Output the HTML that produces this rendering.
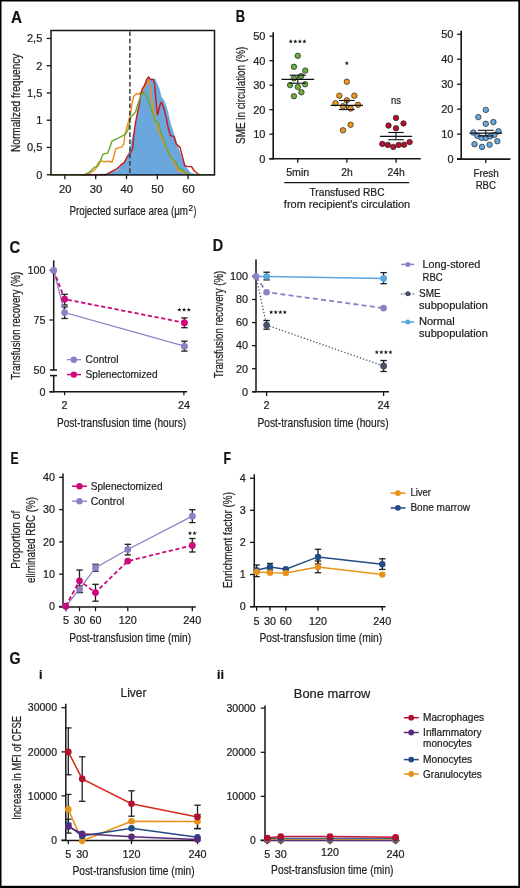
<!DOCTYPE html>
<html><head><meta charset="utf-8"><style>
html,body{margin:0;padding:0;background:#fff;width:520px;height:888px;overflow:hidden}
svg{display:block;will-change:transform}
text{font-family:"Liberation Sans", sans-serif;stroke:#222;stroke-width:0.22px}
</style></head><body>
<svg width="520" height="888" viewBox="0 0 520 888">
<rect x="0" y="0" width="520" height="888" fill="#fff"/>
<text x="11.00" y="22.50" font-size="16.5" text-anchor="start" fill="#111" font-weight="bold" textLength="11.00" lengthAdjust="spacingAndGlyphs">A</text>
<polygon points="94.0,174.8 107.0,173.8 116.7,171.0 123.5,163.3 127.3,156.5 130.2,148.8 133.1,134.4 135.0,129.6 138.5,110.0 141.8,90.8 145.0,84.0 148.8,77.7 151.0,78.8 154.9,79.0 158.8,87.7 161.1,96.5 164.4,101.5 167.8,112.0 170.4,123.8 174.2,135.4 178.1,147.9 181.9,158.5 185.8,167.1 190.6,172.9 195.4,174.5 200.0,174.8" fill="#6aa7dd" stroke="#5eaeea" stroke-width="0.8"/>
<polyline points="76.00,174.80 85.00,174.80 90.80,172.90 95.60,169.00 98.50,162.30 100.90,160.90 104.20,161.80 108.10,161.30 111.90,162.30 113.80,156.50 115.80,148.80 118.20,147.90 122.00,146.90 123.90,143.60 124.90,134.40 127.30,125.80 130.30,114.60 132.20,102.30 133.80,96.20 136.50,93.50 139.50,94.20 141.50,91.50 144.20,87.70 146.80,83.10 148.80,80.00 149.90,85.40 151.10,96.20 152.60,106.20 154.50,116.20 156.50,124.00 159.80,133.50 164.60,145.00 169.40,154.60 174.20,162.30 178.10,171.00 181.40,171.00 183.80,172.90 186.70,174.50 189.00,174.80" fill="none" stroke="#ee8f1f" stroke-width="1.45" stroke-linecap="butt" stroke-linejoin="round"/>
<polyline points="81.00,174.80 106.20,174.80 109.00,172.90 112.90,171.00 116.70,169.00 120.60,165.20 124.40,162.30 127.30,156.50 130.20,153.70 132.60,148.80 134.00,134.40 135.00,126.00 136.50,117.70 138.80,106.90 140.70,95.40 142.20,89.20 144.50,85.40 146.80,79.20 148.60,76.90 150.30,79.60 153.40,79.60 154.50,83.80 155.30,93.10 156.50,106.20 157.50,114.80 158.80,110.00 160.30,103.80 161.40,102.20 163.50,107.00 166.10,117.10 168.00,126.70 170.40,135.40 174.20,136.80 176.20,144.00 180.00,147.40 182.40,156.50 184.80,165.70 188.20,166.60 191.50,166.60 194.40,171.00 198.30,174.30 200.00,174.80" fill="none" stroke="#c81d1d" stroke-width="1.45" stroke-linecap="butt" stroke-linejoin="round"/>
<polyline points="51.00,174.80 84.00,174.80 88.80,172.70 91.70,170.00 94.60,167.10 97.50,166.60 99.90,162.30 102.80,154.60 104.20,153.70 107.60,153.20 110.00,146.90 111.90,141.20 114.80,139.70 117.70,138.30 121.50,136.30 125.40,134.40 127.80,130.60 129.20,124.80 131.10,116.20 133.40,114.60 135.70,111.50 138.00,103.80 140.70,96.20 143.40,91.90 145.70,94.60 148.80,102.30 152.60,112.30 155.00,121.00 158.40,122.90 160.80,132.50 164.60,143.10 170.40,157.50 175.20,161.30 179.00,168.10 182.90,170.00 185.80,172.90 188.70,174.50 192.00,174.80 214.00,174.80" fill="none" stroke="#67ab35" stroke-width="1.45" stroke-linecap="butt" stroke-linejoin="round"/>
<line x1="129.90" y1="31.50" x2="129.90" y2="174.60" stroke="#3a3a3a" stroke-width="1.5" stroke-linecap="butt" stroke-dasharray="4.6,2.6"/>
<rect x="51" y="30.5" width="163.5" height="144.4" fill="none" stroke="#161616" stroke-width="1.5"/>
<line x1="46.70" y1="174.70" x2="51.00" y2="174.70" stroke="#161616" stroke-width="1.3" stroke-linecap="butt"/>
<text x="42.30" y="178.60" font-size="11" text-anchor="end" fill="#222222">0</text>
<line x1="46.70" y1="147.45" x2="51.00" y2="147.45" stroke="#161616" stroke-width="1.3" stroke-linecap="butt"/>
<text x="42.30" y="151.35" font-size="11" text-anchor="end" fill="#222222">0,5</text>
<line x1="46.70" y1="120.20" x2="51.00" y2="120.20" stroke="#161616" stroke-width="1.3" stroke-linecap="butt"/>
<text x="42.30" y="124.10" font-size="11" text-anchor="end" fill="#222222">1</text>
<line x1="46.70" y1="92.95" x2="51.00" y2="92.95" stroke="#161616" stroke-width="1.3" stroke-linecap="butt"/>
<text x="42.30" y="96.85" font-size="11" text-anchor="end" fill="#222222">1,5</text>
<line x1="46.70" y1="65.70" x2="51.00" y2="65.70" stroke="#161616" stroke-width="1.3" stroke-linecap="butt"/>
<text x="42.30" y="69.60" font-size="11" text-anchor="end" fill="#222222">2</text>
<line x1="46.70" y1="38.45" x2="51.00" y2="38.45" stroke="#161616" stroke-width="1.3" stroke-linecap="butt"/>
<text x="42.30" y="42.35" font-size="11" text-anchor="end" fill="#222222">2,5</text>
<line x1="64.90" y1="174.80" x2="64.90" y2="179.20" stroke="#161616" stroke-width="1.3" stroke-linecap="butt"/>
<text x="65.20" y="192.60" font-size="11.2" text-anchor="middle" fill="#222222">20</text>
<line x1="95.70" y1="174.80" x2="95.70" y2="179.20" stroke="#161616" stroke-width="1.3" stroke-linecap="butt"/>
<text x="96.00" y="192.60" font-size="11.2" text-anchor="middle" fill="#222222">30</text>
<line x1="126.50" y1="174.80" x2="126.50" y2="179.20" stroke="#161616" stroke-width="1.3" stroke-linecap="butt"/>
<text x="126.80" y="192.60" font-size="11.2" text-anchor="middle" fill="#222222">40</text>
<line x1="157.30" y1="174.80" x2="157.30" y2="179.20" stroke="#161616" stroke-width="1.3" stroke-linecap="butt"/>
<text x="157.60" y="192.60" font-size="11.2" text-anchor="middle" fill="#222222">50</text>
<line x1="188.10" y1="174.80" x2="188.10" y2="179.20" stroke="#161616" stroke-width="1.3" stroke-linecap="butt"/>
<text x="188.40" y="192.60" font-size="11.2" text-anchor="middle" fill="#222222">60</text>
<text transform="translate(20.00,102.80) rotate(-90)" x="0" y="0" font-size="13.7" text-anchor="middle" fill="#222222" textLength="98.40" lengthAdjust="spacingAndGlyphs">Normalized frequency</text>
<text x="69.40" y="214.60" font-size="13.7" text-anchor="start" fill="#222222" textLength="118.60" lengthAdjust="spacingAndGlyphs">Projected surface area (μm</text>
<text x="188.60" y="210.80" font-size="9.8" text-anchor="start" fill="#222222" textLength="4.60" lengthAdjust="spacingAndGlyphs">2</text>
<text x="193.60" y="214.60" font-size="13.7" text-anchor="start" fill="#222222" textLength="2.90" lengthAdjust="spacingAndGlyphs">)</text>
<text x="235.80" y="22.30" font-size="16.5" text-anchor="start" fill="#111" font-weight="bold" textLength="9.30" lengthAdjust="spacingAndGlyphs">B</text>
<line x1="273.20" y1="32.30" x2="273.20" y2="159.40" stroke="#161616" stroke-width="1.6" stroke-linecap="butt"/>
<line x1="269.20" y1="158.70" x2="420.80" y2="158.70" stroke="#161616" stroke-width="1.6" stroke-linecap="butt"/>
<line x1="269.50" y1="158.70" x2="273.40" y2="158.70" stroke="#161616" stroke-width="1.3" stroke-linecap="butt"/>
<text x="265.40" y="162.60" font-size="11" text-anchor="end" fill="#222222">0</text>
<line x1="269.50" y1="134.20" x2="273.40" y2="134.20" stroke="#161616" stroke-width="1.3" stroke-linecap="butt"/>
<text x="265.40" y="138.10" font-size="11" text-anchor="end" fill="#222222">10</text>
<line x1="269.50" y1="109.70" x2="273.40" y2="109.70" stroke="#161616" stroke-width="1.3" stroke-linecap="butt"/>
<text x="265.40" y="113.60" font-size="11" text-anchor="end" fill="#222222">20</text>
<line x1="269.50" y1="85.20" x2="273.40" y2="85.20" stroke="#161616" stroke-width="1.3" stroke-linecap="butt"/>
<text x="265.40" y="89.10" font-size="11" text-anchor="end" fill="#222222">30</text>
<line x1="269.50" y1="60.70" x2="273.40" y2="60.70" stroke="#161616" stroke-width="1.3" stroke-linecap="butt"/>
<text x="265.40" y="64.60" font-size="11" text-anchor="end" fill="#222222">40</text>
<line x1="269.50" y1="36.20" x2="273.40" y2="36.20" stroke="#161616" stroke-width="1.3" stroke-linecap="butt"/>
<text x="265.40" y="40.10" font-size="11" text-anchor="end" fill="#222222">50</text>
<line x1="297.70" y1="158.70" x2="297.70" y2="162.80" stroke="#161616" stroke-width="1.3" stroke-linecap="butt"/>
<text x="297.70" y="176.20" font-size="11" text-anchor="middle" fill="#222222" textLength="23.00" lengthAdjust="spacingAndGlyphs">5min</text>
<line x1="346.90" y1="158.70" x2="346.90" y2="162.80" stroke="#161616" stroke-width="1.3" stroke-linecap="butt"/>
<text x="346.90" y="176.20" font-size="11" text-anchor="middle" fill="#222222" textLength="11.50" lengthAdjust="spacingAndGlyphs">2h</text>
<line x1="396.10" y1="158.70" x2="396.10" y2="162.80" stroke="#161616" stroke-width="1.3" stroke-linecap="butt"/>
<text x="396.10" y="176.20" font-size="11" text-anchor="middle" fill="#222222" textLength="17.30" lengthAdjust="spacingAndGlyphs">24h</text>
<line x1="284.20" y1="182.60" x2="409.20" y2="182.60" stroke="#161616" stroke-width="1.3" stroke-linecap="butt"/>
<text x="347.00" y="196.00" font-size="11.4" text-anchor="middle" fill="#222222" textLength="75.00" lengthAdjust="spacingAndGlyphs">Transfused RBC</text>
<text x="347.00" y="207.60" font-size="11.4" text-anchor="middle" fill="#222222" textLength="126.30" lengthAdjust="spacingAndGlyphs">from recipient's circulation</text>
<text transform="translate(245.30,95.35) rotate(-90)" x="0" y="0" font-size="13.7" text-anchor="middle" fill="#222222" textLength="97.10" lengthAdjust="spacingAndGlyphs">SME in circulation (%)</text>
<circle cx="297.80" cy="55.80" r="2.75" fill="#6cae3e" stroke="#222" stroke-width="0.7"/>
<circle cx="293.90" cy="66.80" r="2.75" fill="#6cae3e" stroke="#222" stroke-width="0.7"/>
<circle cx="305.30" cy="70.60" r="2.75" fill="#6cae3e" stroke="#222" stroke-width="0.7"/>
<circle cx="301.20" cy="76.00" r="2.75" fill="#6cae3e" stroke="#222" stroke-width="0.7"/>
<circle cx="293.90" cy="78.30" r="2.75" fill="#6cae3e" stroke="#222" stroke-width="0.7"/>
<circle cx="290.10" cy="85.10" r="2.75" fill="#6cae3e" stroke="#222" stroke-width="0.7"/>
<circle cx="297.80" cy="87.00" r="2.75" fill="#6cae3e" stroke="#222" stroke-width="0.7"/>
<circle cx="305.10" cy="84.30" r="2.75" fill="#6cae3e" stroke="#222" stroke-width="0.7"/>
<circle cx="301.40" cy="92.30" r="2.75" fill="#6cae3e" stroke="#222" stroke-width="0.7"/>
<circle cx="293.90" cy="96.20" r="2.75" fill="#6cae3e" stroke="#222" stroke-width="0.7"/>
<line x1="281.45" y1="79.30" x2="314.15" y2="79.30" stroke="#111" stroke-width="1.3" stroke-linecap="butt"/>
<line x1="289.60" y1="75.20" x2="306.00" y2="75.20" stroke="#111" stroke-width="1.1" stroke-linecap="butt"/>
<line x1="289.60" y1="83.20" x2="306.00" y2="83.20" stroke="#111" stroke-width="1.1" stroke-linecap="butt"/>
<line x1="297.80" y1="75.20" x2="297.80" y2="83.20" stroke="#111" stroke-width="1.1" stroke-linecap="butt"/>
<circle cx="346.80" cy="81.70" r="2.75" fill="#f0961c" stroke="#222" stroke-width="0.7"/>
<circle cx="339.30" cy="95.70" r="2.75" fill="#f0961c" stroke="#222" stroke-width="0.7"/>
<circle cx="354.40" cy="95.70" r="2.75" fill="#f0961c" stroke="#222" stroke-width="0.7"/>
<circle cx="346.80" cy="100.30" r="2.75" fill="#f0961c" stroke="#222" stroke-width="0.7"/>
<circle cx="335.50" cy="103.20" r="2.75" fill="#f0961c" stroke="#222" stroke-width="0.7"/>
<circle cx="343.00" cy="106.25" r="2.75" fill="#f0961c" stroke="#222" stroke-width="0.7"/>
<circle cx="358.00" cy="104.80" r="2.75" fill="#f0961c" stroke="#222" stroke-width="0.7"/>
<circle cx="350.60" cy="108.50" r="2.75" fill="#f0961c" stroke="#222" stroke-width="0.7"/>
<circle cx="350.60" cy="124.80" r="2.75" fill="#f0961c" stroke="#222" stroke-width="0.7"/>
<circle cx="343.00" cy="130.30" r="2.75" fill="#f0961c" stroke="#222" stroke-width="0.7"/>
<line x1="330.60" y1="105.30" x2="363.00" y2="105.30" stroke="#111" stroke-width="1.3" stroke-linecap="butt"/>
<line x1="338.95" y1="100.50" x2="354.65" y2="100.50" stroke="#111" stroke-width="1.1" stroke-linecap="butt"/>
<line x1="338.95" y1="109.60" x2="354.65" y2="109.60" stroke="#111" stroke-width="1.1" stroke-linecap="butt"/>
<line x1="346.80" y1="100.50" x2="346.80" y2="109.60" stroke="#111" stroke-width="1.1" stroke-linecap="butt"/>
<circle cx="396.00" cy="117.90" r="2.75" fill="#b5102e" stroke="#222" stroke-width="0.7"/>
<circle cx="388.50" cy="125.60" r="2.75" fill="#b5102e" stroke="#222" stroke-width="0.7"/>
<circle cx="403.50" cy="123.40" r="2.75" fill="#b5102e" stroke="#222" stroke-width="0.7"/>
<circle cx="396.00" cy="128.30" r="2.75" fill="#b5102e" stroke="#222" stroke-width="0.7"/>
<circle cx="382.30" cy="143.90" r="2.75" fill="#b5102e" stroke="#222" stroke-width="0.7"/>
<circle cx="387.80" cy="144.90" r="2.75" fill="#b5102e" stroke="#222" stroke-width="0.7"/>
<circle cx="393.30" cy="146.90" r="2.75" fill="#b5102e" stroke="#222" stroke-width="0.7"/>
<circle cx="398.70" cy="144.90" r="2.75" fill="#b5102e" stroke="#222" stroke-width="0.7"/>
<circle cx="404.10" cy="144.70" r="2.75" fill="#b5102e" stroke="#222" stroke-width="0.7"/>
<circle cx="409.60" cy="142.10" r="2.75" fill="#b5102e" stroke="#222" stroke-width="0.7"/>
<line x1="379.95" y1="136.30" x2="412.05" y2="136.30" stroke="#111" stroke-width="1.3" stroke-linecap="butt"/>
<line x1="388.25" y1="132.50" x2="403.75" y2="132.50" stroke="#111" stroke-width="1.1" stroke-linecap="butt"/>
<line x1="388.25" y1="139.70" x2="403.75" y2="139.70" stroke="#111" stroke-width="1.1" stroke-linecap="butt"/>
<line x1="396.00" y1="132.50" x2="396.00" y2="139.70" stroke="#111" stroke-width="1.1" stroke-linecap="butt"/>
<circle cx="485.80" cy="109.90" r="2.75" fill="#66a8e0" stroke="#222" stroke-width="0.7"/>
<circle cx="478.30" cy="117.10" r="2.75" fill="#66a8e0" stroke="#222" stroke-width="0.7"/>
<circle cx="485.80" cy="123.80" r="2.75" fill="#66a8e0" stroke="#222" stroke-width="0.7"/>
<circle cx="493.40" cy="122.10" r="2.75" fill="#66a8e0" stroke="#222" stroke-width="0.7"/>
<circle cx="473.30" cy="132.50" r="2.75" fill="#66a8e0" stroke="#222" stroke-width="0.7"/>
<circle cx="498.50" cy="131.25" r="2.75" fill="#66a8e0" stroke="#222" stroke-width="0.7"/>
<circle cx="477.40" cy="135.80" r="2.75" fill="#66a8e0" stroke="#222" stroke-width="0.7"/>
<circle cx="481.50" cy="137.80" r="2.75" fill="#66a8e0" stroke="#222" stroke-width="0.7"/>
<circle cx="485.80" cy="138.00" r="2.75" fill="#66a8e0" stroke="#222" stroke-width="0.7"/>
<circle cx="490.10" cy="136.30" r="2.75" fill="#66a8e0" stroke="#222" stroke-width="0.7"/>
<circle cx="494.40" cy="134.90" r="2.75" fill="#66a8e0" stroke="#222" stroke-width="0.7"/>
<circle cx="497.30" cy="141.20" r="2.75" fill="#66a8e0" stroke="#222" stroke-width="0.7"/>
<circle cx="474.50" cy="144.20" r="2.75" fill="#66a8e0" stroke="#222" stroke-width="0.7"/>
<circle cx="489.60" cy="144.70" r="2.75" fill="#66a8e0" stroke="#222" stroke-width="0.7"/>
<circle cx="482.00" cy="146.90" r="2.75" fill="#66a8e0" stroke="#222" stroke-width="0.7"/>
<line x1="469.45" y1="133.20" x2="502.15" y2="133.20" stroke="#111" stroke-width="1.3" stroke-linecap="butt"/>
<line x1="477.90" y1="130.30" x2="493.70" y2="130.30" stroke="#111" stroke-width="1.1" stroke-linecap="butt"/>
<line x1="477.90" y1="136.00" x2="493.70" y2="136.00" stroke="#111" stroke-width="1.1" stroke-linecap="butt"/>
<line x1="485.80" y1="130.30" x2="485.80" y2="136.00" stroke="#111" stroke-width="1.1" stroke-linecap="butt"/>
<polygon points="290.78,39.30 291.36,40.70 292.87,40.82 291.72,41.81 292.07,43.28 290.78,42.49 289.48,43.28 289.83,41.81 288.68,40.82 290.19,40.70" fill="#1a1a1a"/>
<polygon points="295.33,39.30 295.91,40.70 297.42,40.82 296.27,41.81 296.62,43.28 295.33,42.49 294.03,43.28 294.38,41.81 293.23,40.82 294.74,40.70" fill="#1a1a1a"/>
<polygon points="299.88,39.30 300.46,40.70 301.97,40.82 300.82,41.81 301.17,43.28 299.88,42.49 298.58,43.28 298.93,41.81 297.78,40.82 299.29,40.70" fill="#1a1a1a"/>
<polygon points="304.43,39.30 305.01,40.70 306.52,40.82 305.37,41.81 305.72,43.28 304.43,42.49 303.13,43.28 303.48,41.81 302.33,40.82 303.84,40.70" fill="#1a1a1a"/>
<polygon points="346.80,61.10 347.38,62.50 348.89,62.62 347.74,63.61 348.09,65.08 346.80,64.29 345.51,65.08 345.86,63.61 344.71,62.62 346.22,62.50" fill="#1a1a1a"/>
<text x="396.00" y="103.50" font-size="10.5" text-anchor="middle" fill="#222222" textLength="10.00" lengthAdjust="spacingAndGlyphs">ns</text>
<line x1="461.20" y1="30.80" x2="461.20" y2="159.80" stroke="#161616" stroke-width="1.6" stroke-linecap="butt"/>
<line x1="457.00" y1="159.10" x2="510.30" y2="159.10" stroke="#161616" stroke-width="1.6" stroke-linecap="butt"/>
<line x1="457.00" y1="159.10" x2="461.50" y2="159.10" stroke="#161616" stroke-width="1.3" stroke-linecap="butt"/>
<text x="453.50" y="163.00" font-size="11" text-anchor="end" fill="#222222">0</text>
<line x1="457.00" y1="134.13" x2="461.50" y2="134.13" stroke="#161616" stroke-width="1.3" stroke-linecap="butt"/>
<text x="453.50" y="138.03" font-size="11" text-anchor="end" fill="#222222">10</text>
<line x1="457.00" y1="109.16" x2="461.50" y2="109.16" stroke="#161616" stroke-width="1.3" stroke-linecap="butt"/>
<text x="453.50" y="113.06" font-size="11" text-anchor="end" fill="#222222">20</text>
<line x1="457.00" y1="84.19" x2="461.50" y2="84.19" stroke="#161616" stroke-width="1.3" stroke-linecap="butt"/>
<text x="453.50" y="88.09" font-size="11" text-anchor="end" fill="#222222">30</text>
<line x1="457.00" y1="59.22" x2="461.50" y2="59.22" stroke="#161616" stroke-width="1.3" stroke-linecap="butt"/>
<text x="453.50" y="63.12" font-size="11" text-anchor="end" fill="#222222">40</text>
<line x1="457.00" y1="34.25" x2="461.50" y2="34.25" stroke="#161616" stroke-width="1.3" stroke-linecap="butt"/>
<text x="453.50" y="38.15" font-size="11" text-anchor="end" fill="#222222">50</text>
<line x1="485.80" y1="159.10" x2="485.80" y2="163.00" stroke="#161616" stroke-width="1.3" stroke-linecap="butt"/>
<text x="486.10" y="176.50" font-size="11" text-anchor="middle" fill="#222222" textLength="25.40" lengthAdjust="spacingAndGlyphs">Fresh</text>
<text x="485.80" y="188.80" font-size="11" text-anchor="middle" fill="#222222" textLength="20.10" lengthAdjust="spacingAndGlyphs">RBC</text>
<text x="9.60" y="252.60" font-size="16.5" text-anchor="start" fill="#111" font-weight="bold" textLength="10.70" lengthAdjust="spacingAndGlyphs">C</text>
<line x1="53.70" y1="260.40" x2="53.70" y2="370.00" stroke="#161616" stroke-width="1.5" stroke-linecap="butt"/>
<line x1="53.70" y1="375.60" x2="53.70" y2="392.40" stroke="#161616" stroke-width="1.5" stroke-linecap="butt"/>
<line x1="50.00" y1="370.00" x2="57.00" y2="370.00" stroke="#161616" stroke-width="1.5" stroke-linecap="butt"/>
<line x1="50.00" y1="375.60" x2="57.00" y2="375.60" stroke="#161616" stroke-width="1.5" stroke-linecap="butt"/>
<line x1="49.50" y1="391.80" x2="187.10" y2="391.80" stroke="#161616" stroke-width="1.5" stroke-linecap="butt"/>
<line x1="49.50" y1="270.40" x2="53.70" y2="270.40" stroke="#161616" stroke-width="1.3" stroke-linecap="butt"/>
<text x="45.40" y="274.20" font-size="10.8" text-anchor="end" fill="#222222">100</text>
<line x1="49.50" y1="320.00" x2="53.70" y2="320.00" stroke="#161616" stroke-width="1.3" stroke-linecap="butt"/>
<text x="45.40" y="323.80" font-size="10.8" text-anchor="end" fill="#222222">75</text>
<text x="45.40" y="373.60" font-size="10.8" text-anchor="end" fill="#222222">50</text>
<line x1="49.50" y1="391.80" x2="53.70" y2="391.80" stroke="#161616" stroke-width="1.3" stroke-linecap="butt"/>
<text x="45.40" y="395.60" font-size="10.8" text-anchor="end" fill="#222222">0</text>
<line x1="64.60" y1="391.80" x2="64.60" y2="395.20" stroke="#161616" stroke-width="1.3" stroke-linecap="butt"/>
<text x="64.60" y="408.90" font-size="10.8" text-anchor="middle" fill="#222222">2</text>
<line x1="183.90" y1="391.80" x2="183.90" y2="395.20" stroke="#161616" stroke-width="1.3" stroke-linecap="butt"/>
<text x="183.90" y="408.90" font-size="10.8" text-anchor="middle" fill="#222222">24</text>
<text x="57.00" y="426.80" font-size="13.7" text-anchor="start" fill="#222222" textLength="129.00" lengthAdjust="spacingAndGlyphs">Post-transfusion time (hours)</text>
<text transform="translate(20.20,325.80) rotate(-90)" x="0" y="0" font-size="13.7" text-anchor="middle" fill="#222222" textLength="108.00" lengthAdjust="spacingAndGlyphs">Transfusion recovery (%)</text>
<line x1="64.60" y1="307.00" x2="64.60" y2="318.50" stroke="#1e1e1e" stroke-width="1.3" stroke-linecap="butt"/>
<line x1="61.40" y1="307.00" x2="67.80" y2="307.00" stroke="#1e1e1e" stroke-width="1.3" stroke-linecap="butt"/>
<line x1="61.40" y1="318.50" x2="67.80" y2="318.50" stroke="#1e1e1e" stroke-width="1.3" stroke-linecap="butt"/>
<line x1="184.40" y1="341.20" x2="184.40" y2="351.10" stroke="#1e1e1e" stroke-width="1.3" stroke-linecap="butt"/>
<line x1="181.20" y1="341.20" x2="187.60" y2="341.20" stroke="#1e1e1e" stroke-width="1.3" stroke-linecap="butt"/>
<line x1="181.20" y1="351.10" x2="187.60" y2="351.10" stroke="#1e1e1e" stroke-width="1.3" stroke-linecap="butt"/>
<line x1="64.60" y1="294.30" x2="64.60" y2="305.00" stroke="#1e1e1e" stroke-width="1.3" stroke-linecap="butt"/>
<line x1="61.40" y1="294.30" x2="67.80" y2="294.30" stroke="#1e1e1e" stroke-width="1.3" stroke-linecap="butt"/>
<line x1="61.40" y1="305.00" x2="67.80" y2="305.00" stroke="#1e1e1e" stroke-width="1.3" stroke-linecap="butt"/>
<line x1="184.40" y1="317.90" x2="184.40" y2="327.70" stroke="#1e1e1e" stroke-width="1.3" stroke-linecap="butt"/>
<line x1="181.20" y1="317.90" x2="187.60" y2="317.90" stroke="#1e1e1e" stroke-width="1.3" stroke-linecap="butt"/>
<line x1="181.20" y1="327.70" x2="187.60" y2="327.70" stroke="#1e1e1e" stroke-width="1.3" stroke-linecap="butt"/>
<polyline points="53.70,270.40 64.60,312.60 184.40,346.20" fill="none" stroke="#8a82c4" stroke-width="1.3" stroke-linecap="butt" stroke-linejoin="miter"/>
<polyline points="53.70,270.40 64.60,299.20 184.40,322.70" fill="none" stroke="#cc0a7a" stroke-width="1.8" stroke-linecap="butt" stroke-linejoin="miter" stroke-dasharray="4.2,2.6"/>
<circle cx="64.60" cy="299.20" r="3.4" fill="#cc0a7a" stroke="none" stroke-width="0"/>
<circle cx="184.40" cy="322.70" r="3.5" fill="#cc0a7a" stroke="none" stroke-width="0"/>
<circle cx="53.70" cy="270.40" r="3.4" fill="#8a82c4" stroke="none" stroke-width="0"/>
<circle cx="64.60" cy="312.60" r="3.4" fill="#8a82c4" stroke="none" stroke-width="0"/>
<circle cx="184.40" cy="346.20" r="3.5" fill="#8a82c4" stroke="none" stroke-width="0"/>
<polygon points="179.40,307.60 179.98,309.00 181.49,309.12 180.34,310.11 180.69,311.58 179.40,310.79 178.11,311.58 178.46,310.11 177.31,309.12 178.82,309.00" fill="#1a1a1a"/>
<polygon points="184.10,307.60 184.68,309.00 186.19,309.12 185.04,310.11 185.39,311.58 184.10,310.79 182.81,311.58 183.16,310.11 182.01,309.12 183.52,309.00" fill="#1a1a1a"/>
<polygon points="188.80,307.60 189.38,309.00 190.89,309.12 189.74,310.11 190.09,311.58 188.80,310.79 187.51,311.58 187.86,310.11 186.71,309.12 188.22,309.00" fill="#1a1a1a"/>
<line x1="66.90" y1="359.70" x2="81.00" y2="359.70" stroke="#8a82c4" stroke-width="1.3" stroke-linecap="butt"/>
<circle cx="73.80" cy="359.70" r="3.2" fill="#8a82c4" stroke="none" stroke-width="0"/>
<line x1="66.90" y1="374.60" x2="81.00" y2="374.60" stroke="#cc0a7a" stroke-width="1.5" stroke-linecap="butt"/>
<circle cx="73.80" cy="374.60" r="3.2" fill="#cc0a7a" stroke="none" stroke-width="0"/>
<text x="85.60" y="363.30" font-size="11.2" text-anchor="start" fill="#222222" textLength="33.00" lengthAdjust="spacingAndGlyphs">Control</text>
<text x="85.60" y="378.10" font-size="11.2" text-anchor="start" fill="#222222" textLength="72.00" lengthAdjust="spacingAndGlyphs">Splenectomized</text>
<text x="212.80" y="251.20" font-size="16.5" text-anchor="start" fill="#111" font-weight="bold" textLength="10.40" lengthAdjust="spacingAndGlyphs">D</text>
<line x1="256.00" y1="259.60" x2="256.00" y2="392.20" stroke="#161616" stroke-width="1.5" stroke-linecap="butt"/>
<line x1="252.20" y1="391.70" x2="389.00" y2="391.70" stroke="#161616" stroke-width="1.5" stroke-linecap="butt"/>
<line x1="252.00" y1="391.80" x2="256.00" y2="391.80" stroke="#161616" stroke-width="1.3" stroke-linecap="butt"/>
<text x="248.00" y="395.60" font-size="10.8" text-anchor="end" fill="#222222">0</text>
<line x1="252.00" y1="368.72" x2="256.00" y2="368.72" stroke="#161616" stroke-width="1.3" stroke-linecap="butt"/>
<text x="248.00" y="372.52" font-size="10.8" text-anchor="end" fill="#222222">20</text>
<line x1="252.00" y1="345.64" x2="256.00" y2="345.64" stroke="#161616" stroke-width="1.3" stroke-linecap="butt"/>
<text x="248.00" y="349.44" font-size="10.8" text-anchor="end" fill="#222222">40</text>
<line x1="252.00" y1="322.56" x2="256.00" y2="322.56" stroke="#161616" stroke-width="1.3" stroke-linecap="butt"/>
<text x="248.00" y="326.36" font-size="10.8" text-anchor="end" fill="#222222">60</text>
<line x1="252.00" y1="299.48" x2="256.00" y2="299.48" stroke="#161616" stroke-width="1.3" stroke-linecap="butt"/>
<text x="248.00" y="303.28" font-size="10.8" text-anchor="end" fill="#222222">80</text>
<line x1="252.00" y1="276.40" x2="256.00" y2="276.40" stroke="#161616" stroke-width="1.3" stroke-linecap="butt"/>
<text x="248.00" y="280.20" font-size="10.8" text-anchor="end" fill="#222222">100</text>
<line x1="266.60" y1="391.70" x2="266.60" y2="396.00" stroke="#161616" stroke-width="1.3" stroke-linecap="butt"/>
<text x="266.60" y="409.20" font-size="10.8" text-anchor="middle" fill="#222222">2</text>
<line x1="383.60" y1="391.70" x2="383.60" y2="396.00" stroke="#161616" stroke-width="1.3" stroke-linecap="butt"/>
<text x="383.60" y="409.20" font-size="10.8" text-anchor="middle" fill="#222222">24</text>
<text x="257.40" y="426.50" font-size="13.7" text-anchor="start" fill="#222222" textLength="131.20" lengthAdjust="spacingAndGlyphs">Post-transfusion time (hours)</text>
<text transform="translate(223.10,324.50) rotate(-90)" x="0" y="0" font-size="13.7" text-anchor="middle" fill="#222222" textLength="107.50" lengthAdjust="spacingAndGlyphs">Transfusion recovery (%)</text>
<line x1="266.60" y1="272.20" x2="266.60" y2="279.90" stroke="#1e1e1e" stroke-width="1.3" stroke-linecap="butt"/>
<line x1="263.40" y1="272.20" x2="269.80" y2="272.20" stroke="#1e1e1e" stroke-width="1.3" stroke-linecap="butt"/>
<line x1="263.40" y1="279.90" x2="269.80" y2="279.90" stroke="#1e1e1e" stroke-width="1.3" stroke-linecap="butt"/>
<line x1="383.60" y1="272.60" x2="383.60" y2="283.70" stroke="#1e1e1e" stroke-width="1.3" stroke-linecap="butt"/>
<line x1="380.40" y1="272.60" x2="386.80" y2="272.60" stroke="#1e1e1e" stroke-width="1.3" stroke-linecap="butt"/>
<line x1="380.40" y1="283.70" x2="386.80" y2="283.70" stroke="#1e1e1e" stroke-width="1.3" stroke-linecap="butt"/>
<line x1="266.60" y1="320.50" x2="266.60" y2="329.20" stroke="#1e1e1e" stroke-width="1.3" stroke-linecap="butt"/>
<line x1="263.40" y1="320.50" x2="269.80" y2="320.50" stroke="#1e1e1e" stroke-width="1.3" stroke-linecap="butt"/>
<line x1="263.40" y1="329.20" x2="269.80" y2="329.20" stroke="#1e1e1e" stroke-width="1.3" stroke-linecap="butt"/>
<line x1="383.60" y1="360.50" x2="383.60" y2="371.50" stroke="#1e1e1e" stroke-width="1.3" stroke-linecap="butt"/>
<line x1="380.40" y1="360.50" x2="386.80" y2="360.50" stroke="#1e1e1e" stroke-width="1.3" stroke-linecap="butt"/>
<line x1="380.40" y1="371.50" x2="386.80" y2="371.50" stroke="#1e1e1e" stroke-width="1.3" stroke-linecap="butt"/>
<polyline points="256.00,276.50 266.60,325.10 383.60,366.00" fill="none" stroke="#465066" stroke-width="1.3" stroke-linecap="butt" stroke-linejoin="miter" stroke-dasharray="1.3,2"/>
<polyline points="256.00,276.50 266.60,292.20 383.60,308.10" fill="none" stroke="#8a82c4" stroke-width="1.8" stroke-linecap="butt" stroke-linejoin="miter" stroke-dasharray="5,3.2"/>
<polyline points="256.00,276.50 266.60,276.50 383.60,278.50" fill="none" stroke="#5aa7e0" stroke-width="1.5" stroke-linecap="butt" stroke-linejoin="miter"/>
<circle cx="266.60" cy="325.10" r="3.4" fill="#465066" stroke="none" stroke-width="0"/>
<circle cx="383.60" cy="366.00" r="3.4" fill="#465066" stroke="none" stroke-width="0"/>
<circle cx="266.60" cy="292.20" r="3.3" fill="#8a82c4" stroke="none" stroke-width="0"/>
<circle cx="383.60" cy="308.10" r="3.4" fill="#8a82c4" stroke="none" stroke-width="0"/>
<circle cx="266.60" cy="276.50" r="3.3" fill="#5aa7e0" stroke="none" stroke-width="0"/>
<circle cx="383.60" cy="278.50" r="3.4" fill="#5aa7e0" stroke="none" stroke-width="0"/>
<circle cx="256.00" cy="276.50" r="3.3" fill="#8a82c4" stroke="none" stroke-width="0"/>
<polygon points="271.18,310.10 271.76,311.50 273.27,311.62 272.12,312.61 272.47,314.08 271.18,313.29 269.88,314.08 270.23,312.61 269.08,311.62 270.59,311.50" fill="#1a1a1a"/>
<polygon points="275.73,310.10 276.31,311.50 277.82,311.62 276.67,312.61 277.02,314.08 275.73,313.29 274.43,314.08 274.78,312.61 273.63,311.62 275.14,311.50" fill="#1a1a1a"/>
<polygon points="280.28,310.10 280.86,311.50 282.37,311.62 281.22,312.61 281.57,314.08 280.28,313.29 278.98,314.08 279.33,312.61 278.18,311.62 279.69,311.50" fill="#1a1a1a"/>
<polygon points="284.82,310.10 285.41,311.50 286.92,311.62 285.77,312.61 286.12,314.08 284.82,313.29 283.53,314.08 283.88,312.61 282.73,311.62 284.24,311.50" fill="#1a1a1a"/>
<polygon points="376.78,350.10 377.36,351.50 378.87,351.62 377.72,352.61 378.07,354.08 376.78,353.29 375.48,354.08 375.83,352.61 374.68,351.62 376.19,351.50" fill="#1a1a1a"/>
<polygon points="381.33,350.10 381.91,351.50 383.42,351.62 382.27,352.61 382.62,354.08 381.33,353.29 380.03,354.08 380.38,352.61 379.23,351.62 380.74,351.50" fill="#1a1a1a"/>
<polygon points="385.88,350.10 386.46,351.50 387.97,351.62 386.82,352.61 387.17,354.08 385.88,353.29 384.58,354.08 384.93,352.61 383.78,351.62 385.29,351.50" fill="#1a1a1a"/>
<polygon points="390.43,350.10 391.01,351.50 392.52,351.62 391.37,352.61 391.72,354.08 390.43,353.29 389.13,354.08 389.48,352.61 388.33,351.62 389.84,351.50" fill="#1a1a1a"/>
<line x1="401.20" y1="264.40" x2="414.20" y2="264.40" stroke="#8a82c4" stroke-width="1.5" stroke-linecap="butt"/>
<circle cx="407.90" cy="264.40" r="2.5" fill="#8a82c4" stroke="none" stroke-width="0"/>
<line x1="401.20" y1="293.80" x2="414.20" y2="293.80" stroke="#465066" stroke-width="1.3" stroke-linecap="butt" stroke-dasharray="1.3,1.6"/>
<circle cx="407.90" cy="293.80" r="2.5" fill="#465066" stroke="none" stroke-width="0"/>
<line x1="401.20" y1="322.10" x2="414.20" y2="322.10" stroke="#5aa7e0" stroke-width="1.5" stroke-linecap="butt"/>
<circle cx="407.90" cy="322.10" r="2.5" fill="#5aa7e0" stroke="none" stroke-width="0"/>
<text x="422.50" y="268.30" font-size="10.8" text-anchor="start" fill="#222222" textLength="57.70" lengthAdjust="spacingAndGlyphs">Long-stored</text>
<text x="422.50" y="280.80" font-size="10.8" text-anchor="start" fill="#222222" textLength="20.20" lengthAdjust="spacingAndGlyphs">RBC</text>
<text x="419.00" y="297.10" font-size="10.8" text-anchor="start" fill="#222222" textLength="21.70" lengthAdjust="spacingAndGlyphs">SME</text>
<text x="419.00" y="308.70" font-size="10.8" text-anchor="start" fill="#222222" textLength="68.90" lengthAdjust="spacingAndGlyphs">subpopulation</text>
<text x="419.00" y="325.00" font-size="10.8" text-anchor="start" fill="#222222" textLength="35.60" lengthAdjust="spacingAndGlyphs">Normal</text>
<text x="419.00" y="336.50" font-size="10.8" text-anchor="start" fill="#222222" textLength="68.90" lengthAdjust="spacingAndGlyphs">subpopulation</text>
<text x="10.50" y="463.50" font-size="16.5" text-anchor="start" fill="#111" font-weight="bold" textLength="8.10" lengthAdjust="spacingAndGlyphs">E</text>
<line x1="63.00" y1="473.40" x2="63.00" y2="607.00" stroke="#161616" stroke-width="1.5" stroke-linecap="butt"/>
<line x1="59.20" y1="607.10" x2="195.80" y2="607.10" stroke="#161616" stroke-width="1.5" stroke-linecap="butt"/>
<line x1="59.20" y1="606.50" x2="63.00" y2="606.50" stroke="#161616" stroke-width="1.3" stroke-linecap="butt"/>
<text x="54.90" y="610.30" font-size="10.8" text-anchor="end" fill="#222222">0</text>
<line x1="59.20" y1="574.20" x2="63.00" y2="574.20" stroke="#161616" stroke-width="1.3" stroke-linecap="butt"/>
<text x="54.90" y="578.00" font-size="10.8" text-anchor="end" fill="#222222">10</text>
<line x1="59.20" y1="541.90" x2="63.00" y2="541.90" stroke="#161616" stroke-width="1.3" stroke-linecap="butt"/>
<text x="54.90" y="545.70" font-size="10.8" text-anchor="end" fill="#222222">20</text>
<line x1="59.20" y1="509.60" x2="63.00" y2="509.60" stroke="#161616" stroke-width="1.3" stroke-linecap="butt"/>
<text x="54.90" y="513.40" font-size="10.8" text-anchor="end" fill="#222222">30</text>
<line x1="59.20" y1="477.30" x2="63.00" y2="477.30" stroke="#161616" stroke-width="1.3" stroke-linecap="butt"/>
<text x="54.90" y="481.10" font-size="10.8" text-anchor="end" fill="#222222">40</text>
<line x1="66.00" y1="607.10" x2="66.00" y2="611.20" stroke="#161616" stroke-width="1.3" stroke-linecap="butt"/>
<text x="66.00" y="624.20" font-size="10.8" text-anchor="middle" fill="#222222">5</text>
<line x1="79.50" y1="607.10" x2="79.50" y2="611.20" stroke="#161616" stroke-width="1.3" stroke-linecap="butt"/>
<text x="79.50" y="624.20" font-size="10.8" text-anchor="middle" fill="#222222">30</text>
<line x1="95.50" y1="607.10" x2="95.50" y2="611.20" stroke="#161616" stroke-width="1.3" stroke-linecap="butt"/>
<text x="95.50" y="624.20" font-size="10.8" text-anchor="middle" fill="#222222">60</text>
<line x1="127.80" y1="607.10" x2="127.80" y2="611.20" stroke="#161616" stroke-width="1.3" stroke-linecap="butt"/>
<text x="127.80" y="624.20" font-size="10.8" text-anchor="middle" fill="#222222">120</text>
<line x1="192.30" y1="607.10" x2="192.30" y2="611.20" stroke="#161616" stroke-width="1.3" stroke-linecap="butt"/>
<text x="192.30" y="624.20" font-size="10.8" text-anchor="middle" fill="#222222">240</text>
<text x="69.20" y="641.50" font-size="13.7" text-anchor="start" fill="#222222" textLength="122.00" lengthAdjust="spacingAndGlyphs">Post-transfusion time (min)</text>
<text transform="translate(19.70,539.80) rotate(-90)" x="0" y="0" font-size="13.7" text-anchor="middle" fill="#222222" textLength="58.00" lengthAdjust="spacingAndGlyphs">Proportion of</text>
<text transform="translate(34.80,540.00) rotate(-90)" x="0" y="0" font-size="13.7" text-anchor="middle" fill="#222222" textLength="86.10" lengthAdjust="spacingAndGlyphs">eliminated RBC (%)</text>
<line x1="79.50" y1="585.80" x2="79.50" y2="592.60" stroke="#1e1e1e" stroke-width="1.3" stroke-linecap="butt"/>
<line x1="76.30" y1="585.80" x2="82.70" y2="585.80" stroke="#1e1e1e" stroke-width="1.3" stroke-linecap="butt"/>
<line x1="76.30" y1="592.60" x2="82.70" y2="592.60" stroke="#1e1e1e" stroke-width="1.3" stroke-linecap="butt"/>
<line x1="95.50" y1="564.30" x2="95.50" y2="571.20" stroke="#1e1e1e" stroke-width="1.3" stroke-linecap="butt"/>
<line x1="92.30" y1="564.30" x2="98.70" y2="564.30" stroke="#1e1e1e" stroke-width="1.3" stroke-linecap="butt"/>
<line x1="92.30" y1="571.20" x2="98.70" y2="571.20" stroke="#1e1e1e" stroke-width="1.3" stroke-linecap="butt"/>
<line x1="127.80" y1="544.30" x2="127.80" y2="554.90" stroke="#1e1e1e" stroke-width="1.3" stroke-linecap="butt"/>
<line x1="124.60" y1="544.30" x2="131.00" y2="544.30" stroke="#1e1e1e" stroke-width="1.3" stroke-linecap="butt"/>
<line x1="124.60" y1="554.90" x2="131.00" y2="554.90" stroke="#1e1e1e" stroke-width="1.3" stroke-linecap="butt"/>
<line x1="192.30" y1="509.70" x2="192.30" y2="522.60" stroke="#1e1e1e" stroke-width="1.3" stroke-linecap="butt"/>
<line x1="189.10" y1="509.70" x2="195.50" y2="509.70" stroke="#1e1e1e" stroke-width="1.3" stroke-linecap="butt"/>
<line x1="189.10" y1="522.60" x2="195.50" y2="522.60" stroke="#1e1e1e" stroke-width="1.3" stroke-linecap="butt"/>
<line x1="79.50" y1="570.00" x2="79.50" y2="592.30" stroke="#1e1e1e" stroke-width="1.3" stroke-linecap="butt"/>
<line x1="76.30" y1="570.00" x2="82.70" y2="570.00" stroke="#1e1e1e" stroke-width="1.3" stroke-linecap="butt"/>
<line x1="76.30" y1="592.30" x2="82.70" y2="592.30" stroke="#1e1e1e" stroke-width="1.3" stroke-linecap="butt"/>
<line x1="95.50" y1="584.30" x2="95.50" y2="601.20" stroke="#1e1e1e" stroke-width="1.3" stroke-linecap="butt"/>
<line x1="92.30" y1="584.30" x2="98.70" y2="584.30" stroke="#1e1e1e" stroke-width="1.3" stroke-linecap="butt"/>
<line x1="92.30" y1="601.20" x2="98.70" y2="601.20" stroke="#1e1e1e" stroke-width="1.3" stroke-linecap="butt"/>
<line x1="192.30" y1="538.50" x2="192.30" y2="552.00" stroke="#1e1e1e" stroke-width="1.3" stroke-linecap="butt"/>
<line x1="189.10" y1="538.50" x2="195.50" y2="538.50" stroke="#1e1e1e" stroke-width="1.3" stroke-linecap="butt"/>
<line x1="189.10" y1="552.00" x2="195.50" y2="552.00" stroke="#1e1e1e" stroke-width="1.3" stroke-linecap="butt"/>
<polyline points="65.80,606.20 79.50,589.20 95.50,567.70 127.80,549.50 192.30,516.20" fill="none" stroke="#8a82c4" stroke-width="1.3" stroke-linecap="butt" stroke-linejoin="miter"/>
<circle cx="65.80" cy="606.20" r="3.4" fill="#8a82c4" stroke="none" stroke-width="0"/>
<circle cx="79.50" cy="589.20" r="3.4" fill="#8a82c4" stroke="none" stroke-width="0"/>
<circle cx="95.50" cy="567.70" r="3.4" fill="#8a82c4" stroke="none" stroke-width="0"/>
<circle cx="127.80" cy="549.50" r="3.4" fill="#8a82c4" stroke="none" stroke-width="0"/>
<circle cx="192.30" cy="516.20" r="3.4" fill="#8a82c4" stroke="none" stroke-width="0"/>
<polyline points="65.80,606.20 79.50,580.80 95.50,592.60 127.80,561.10 192.30,545.40" fill="none" stroke="#cc0a7a" stroke-width="1.8" stroke-linecap="butt" stroke-linejoin="miter" stroke-dasharray="4.2,2.6"/>
<circle cx="65.80" cy="606.20" r="3.4" fill="#cc0a7a" stroke="none" stroke-width="0"/>
<circle cx="79.50" cy="580.80" r="3.4" fill="#cc0a7a" stroke="none" stroke-width="0"/>
<circle cx="95.50" cy="592.60" r="3.4" fill="#cc0a7a" stroke="none" stroke-width="0"/>
<circle cx="127.80" cy="561.10" r="3.4" fill="#cc0a7a" stroke="none" stroke-width="0"/>
<circle cx="192.30" cy="545.40" r="3.4" fill="#cc0a7a" stroke="none" stroke-width="0"/>
<polygon points="190.03,531.10 190.61,532.50 192.12,532.62 190.97,533.61 191.32,535.08 190.03,534.29 188.73,535.08 189.08,533.61 187.93,532.62 189.44,532.50" fill="#1a1a1a"/>
<polygon points="194.58,531.10 195.16,532.50 196.67,532.62 195.52,533.61 195.87,535.08 194.58,534.29 193.28,535.08 193.63,533.61 192.48,532.62 193.99,532.50" fill="#1a1a1a"/>
<line x1="72.00" y1="486.25" x2="87.00" y2="486.25" stroke="#cc0a7a" stroke-width="1.5" stroke-linecap="butt"/>
<circle cx="79.50" cy="486.25" r="3.2" fill="#cc0a7a" stroke="none" stroke-width="0"/>
<line x1="72.00" y1="501.25" x2="87.00" y2="501.25" stroke="#8a82c4" stroke-width="1.3" stroke-linecap="butt"/>
<circle cx="79.50" cy="501.25" r="3.2" fill="#8a82c4" stroke="none" stroke-width="0"/>
<text x="90.75" y="490.00" font-size="11.2" text-anchor="start" fill="#222222" textLength="71.75" lengthAdjust="spacingAndGlyphs">Splenectomized</text>
<text x="90.75" y="504.50" font-size="11.2" text-anchor="start" fill="#222222" textLength="33.50" lengthAdjust="spacingAndGlyphs">Control</text>
<text x="223.40" y="464.30" font-size="16.5" text-anchor="start" fill="#111" font-weight="bold" textLength="7.50" lengthAdjust="spacingAndGlyphs">F</text>
<line x1="254.30" y1="474.30" x2="254.30" y2="607.20" stroke="#161616" stroke-width="1.5" stroke-linecap="butt"/>
<line x1="250.00" y1="606.70" x2="385.60" y2="606.70" stroke="#161616" stroke-width="1.5" stroke-linecap="butt"/>
<line x1="250.00" y1="606.60" x2="254.30" y2="606.60" stroke="#161616" stroke-width="1.3" stroke-linecap="butt"/>
<text x="245.70" y="610.40" font-size="10.8" text-anchor="end" fill="#222222">0</text>
<line x1="250.00" y1="574.50" x2="254.30" y2="574.50" stroke="#161616" stroke-width="1.3" stroke-linecap="butt"/>
<text x="245.70" y="578.30" font-size="10.8" text-anchor="end" fill="#222222">1</text>
<line x1="250.00" y1="542.40" x2="254.30" y2="542.40" stroke="#161616" stroke-width="1.3" stroke-linecap="butt"/>
<text x="245.70" y="546.20" font-size="10.8" text-anchor="end" fill="#222222">2</text>
<line x1="250.00" y1="510.30" x2="254.30" y2="510.30" stroke="#161616" stroke-width="1.3" stroke-linecap="butt"/>
<text x="245.70" y="514.10" font-size="10.8" text-anchor="end" fill="#222222">3</text>
<line x1="250.00" y1="478.20" x2="254.30" y2="478.20" stroke="#161616" stroke-width="1.3" stroke-linecap="butt"/>
<text x="245.70" y="482.00" font-size="10.8" text-anchor="end" fill="#222222">4</text>
<line x1="256.60" y1="606.70" x2="256.60" y2="610.80" stroke="#161616" stroke-width="1.3" stroke-linecap="butt"/>
<text x="256.60" y="624.50" font-size="10.8" text-anchor="middle" fill="#222222">5</text>
<line x1="270.00" y1="606.70" x2="270.00" y2="610.80" stroke="#161616" stroke-width="1.3" stroke-linecap="butt"/>
<text x="270.00" y="624.50" font-size="10.8" text-anchor="middle" fill="#222222">30</text>
<line x1="285.80" y1="606.70" x2="285.80" y2="610.80" stroke="#161616" stroke-width="1.3" stroke-linecap="butt"/>
<text x="285.80" y="624.50" font-size="10.8" text-anchor="middle" fill="#222222">60</text>
<line x1="318.00" y1="606.70" x2="318.00" y2="610.80" stroke="#161616" stroke-width="1.3" stroke-linecap="butt"/>
<text x="318.00" y="624.50" font-size="10.8" text-anchor="middle" fill="#222222">120</text>
<line x1="382.30" y1="606.70" x2="382.30" y2="610.80" stroke="#161616" stroke-width="1.3" stroke-linecap="butt"/>
<text x="382.30" y="624.50" font-size="10.8" text-anchor="middle" fill="#222222">240</text>
<text x="259.40" y="641.50" font-size="13.7" text-anchor="start" fill="#222222" textLength="122.80" lengthAdjust="spacingAndGlyphs">Post-transfusion time (min)</text>
<text transform="translate(232.20,540.00) rotate(-90)" x="0" y="0" font-size="13.7" text-anchor="middle" fill="#222222" textLength="96.00" lengthAdjust="spacingAndGlyphs">Enrichment factor (%)</text>
<line x1="256.60" y1="565.00" x2="256.60" y2="576.60" stroke="#1e1e1e" stroke-width="1.3" stroke-linecap="butt"/>
<line x1="253.40" y1="565.00" x2="259.80" y2="565.00" stroke="#1e1e1e" stroke-width="1.3" stroke-linecap="butt"/>
<line x1="253.40" y1="576.60" x2="259.80" y2="576.60" stroke="#1e1e1e" stroke-width="1.3" stroke-linecap="butt"/>
<line x1="270.00" y1="563.50" x2="270.00" y2="570.00" stroke="#1e1e1e" stroke-width="1.3" stroke-linecap="butt"/>
<line x1="266.80" y1="563.50" x2="273.20" y2="563.50" stroke="#1e1e1e" stroke-width="1.3" stroke-linecap="butt"/>
<line x1="266.80" y1="570.00" x2="273.20" y2="570.00" stroke="#1e1e1e" stroke-width="1.3" stroke-linecap="butt"/>
<line x1="318.00" y1="549.30" x2="318.00" y2="564.00" stroke="#1e1e1e" stroke-width="1.3" stroke-linecap="butt"/>
<line x1="314.80" y1="549.30" x2="321.20" y2="549.30" stroke="#1e1e1e" stroke-width="1.3" stroke-linecap="butt"/>
<line x1="314.80" y1="564.00" x2="321.20" y2="564.00" stroke="#1e1e1e" stroke-width="1.3" stroke-linecap="butt"/>
<line x1="318.00" y1="561.00" x2="318.00" y2="572.70" stroke="#1e1e1e" stroke-width="1.3" stroke-linecap="butt"/>
<line x1="314.80" y1="561.00" x2="321.20" y2="561.00" stroke="#1e1e1e" stroke-width="1.3" stroke-linecap="butt"/>
<line x1="314.80" y1="572.70" x2="321.20" y2="572.70" stroke="#1e1e1e" stroke-width="1.3" stroke-linecap="butt"/>
<line x1="382.30" y1="558.80" x2="382.30" y2="569.40" stroke="#1e1e1e" stroke-width="1.3" stroke-linecap="butt"/>
<line x1="379.10" y1="558.80" x2="385.50" y2="558.80" stroke="#1e1e1e" stroke-width="1.3" stroke-linecap="butt"/>
<line x1="379.10" y1="569.40" x2="385.50" y2="569.40" stroke="#1e1e1e" stroke-width="1.3" stroke-linecap="butt"/>
<polyline points="256.60,570.30 270.00,566.90 285.80,569.20 318.00,556.90 382.30,564.20" fill="none" stroke="#234a86" stroke-width="1.5" stroke-linecap="butt" stroke-linejoin="miter"/>
<circle cx="256.60" cy="570.30" r="3.2" fill="#234a86" stroke="none" stroke-width="0"/>
<circle cx="270.00" cy="566.90" r="3.2" fill="#234a86" stroke="none" stroke-width="0"/>
<circle cx="285.80" cy="569.20" r="3.2" fill="#234a86" stroke="none" stroke-width="0"/>
<circle cx="318.00" cy="556.90" r="3.2" fill="#234a86" stroke="none" stroke-width="0"/>
<circle cx="382.30" cy="564.20" r="3.2" fill="#234a86" stroke="none" stroke-width="0"/>
<polyline points="256.60,572.00 270.00,572.80 285.80,573.10 318.00,566.90 382.30,574.60" fill="none" stroke="#e8921a" stroke-width="1.5" stroke-linecap="butt" stroke-linejoin="miter"/>
<circle cx="256.60" cy="572.00" r="3.2" fill="#e8921a" stroke="none" stroke-width="0"/>
<circle cx="270.00" cy="572.80" r="3.2" fill="#e8921a" stroke="none" stroke-width="0"/>
<circle cx="285.80" cy="573.10" r="3.2" fill="#e8921a" stroke="none" stroke-width="0"/>
<circle cx="318.00" cy="566.90" r="3.2" fill="#e8921a" stroke="none" stroke-width="0"/>
<circle cx="382.30" cy="574.60" r="3.2" fill="#e8921a" stroke="none" stroke-width="0"/>
<line x1="390.60" y1="493.10" x2="405.60" y2="493.10" stroke="#e8921a" stroke-width="1.5" stroke-linecap="butt"/>
<circle cx="397.90" cy="493.10" r="2.9" fill="#e8921a" stroke="none" stroke-width="0"/>
<line x1="390.60" y1="507.90" x2="405.60" y2="507.90" stroke="#234a86" stroke-width="1.5" stroke-linecap="butt"/>
<circle cx="397.90" cy="507.90" r="2.9" fill="#234a86" stroke="none" stroke-width="0"/>
<text x="410.40" y="496.30" font-size="11.2" text-anchor="start" fill="#222222" textLength="20.60" lengthAdjust="spacingAndGlyphs">Liver</text>
<text x="410.40" y="510.80" font-size="11.2" text-anchor="start" fill="#222222" textLength="59.60" lengthAdjust="spacingAndGlyphs">Bone marrow</text>
<text x="9.60" y="663.70" font-size="16.5" text-anchor="start" fill="#111" font-weight="bold" textLength="11.10" lengthAdjust="spacingAndGlyphs">G</text>
<text x="40.80" y="678.50" font-size="12.5" text-anchor="middle" fill="#111" font-weight="bold">i</text>
<text x="217.00" y="678.50" font-size="12.5" text-anchor="start" fill="#111" font-weight="bold">ii</text>
<text x="120.50" y="696.50" font-size="12.8" text-anchor="start" fill="#222222" textLength="26.00" lengthAdjust="spacingAndGlyphs">Liver</text>
<text x="293.80" y="697.70" font-size="12.8" text-anchor="start" fill="#222222" textLength="76.60" lengthAdjust="spacingAndGlyphs">Bone marrow</text>
<line x1="65.80" y1="703.80" x2="65.80" y2="840.90" stroke="#161616" stroke-width="1.5" stroke-linecap="butt"/>
<line x1="61.50" y1="840.40" x2="200.40" y2="840.40" stroke="#161616" stroke-width="1.5" stroke-linecap="butt"/>
<line x1="61.50" y1="840.20" x2="65.80" y2="840.20" stroke="#161616" stroke-width="1.3" stroke-linecap="butt"/>
<text x="57.00" y="843.80" font-size="10.3" text-anchor="end" fill="#222222">0</text>
<line x1="61.50" y1="795.90" x2="65.80" y2="795.90" stroke="#161616" stroke-width="1.3" stroke-linecap="butt"/>
<text x="57.00" y="799.50" font-size="10.3" text-anchor="end" fill="#222222" textLength="29.20" lengthAdjust="spacingAndGlyphs">10000</text>
<line x1="61.50" y1="751.90" x2="65.80" y2="751.90" stroke="#161616" stroke-width="1.3" stroke-linecap="butt"/>
<text x="57.00" y="755.50" font-size="10.3" text-anchor="end" fill="#222222" textLength="29.20" lengthAdjust="spacingAndGlyphs">20000</text>
<line x1="61.50" y1="707.70" x2="65.80" y2="707.70" stroke="#161616" stroke-width="1.3" stroke-linecap="butt"/>
<text x="57.00" y="711.30" font-size="10.3" text-anchor="end" fill="#222222" textLength="29.20" lengthAdjust="spacingAndGlyphs">30000</text>
<line x1="68.30" y1="840.40" x2="68.30" y2="844.20" stroke="#161616" stroke-width="1.3" stroke-linecap="butt"/>
<text x="68.30" y="858.00" font-size="10.8" text-anchor="middle" fill="#222222">5</text>
<line x1="82.20" y1="840.40" x2="82.20" y2="844.20" stroke="#161616" stroke-width="1.3" stroke-linecap="butt"/>
<text x="82.20" y="858.00" font-size="10.8" text-anchor="middle" fill="#222222">30</text>
<line x1="131.50" y1="840.40" x2="131.50" y2="844.20" stroke="#161616" stroke-width="1.3" stroke-linecap="butt"/>
<text x="131.50" y="858.00" font-size="10.8" text-anchor="middle" fill="#222222">120</text>
<line x1="197.50" y1="840.40" x2="197.50" y2="844.20" stroke="#161616" stroke-width="1.3" stroke-linecap="butt"/>
<text x="197.50" y="858.00" font-size="10.8" text-anchor="middle" fill="#222222">240</text>
<text x="72.50" y="875.00" font-size="13.7" text-anchor="start" fill="#222222" textLength="122.10" lengthAdjust="spacingAndGlyphs">Post-transfusion time (min)</text>
<text transform="translate(20.90,767.80) rotate(-90)" x="0" y="0" font-size="13.7" text-anchor="middle" fill="#222222" textLength="104.00" lengthAdjust="spacingAndGlyphs">Increase in MFI of CFSE</text>
<line x1="68.30" y1="727.90" x2="68.30" y2="774.80" stroke="#1e1e1e" stroke-width="1.3" stroke-linecap="butt"/>
<line x1="65.10" y1="727.90" x2="71.50" y2="727.90" stroke="#1e1e1e" stroke-width="1.3" stroke-linecap="butt"/>
<line x1="65.10" y1="774.80" x2="71.50" y2="774.80" stroke="#1e1e1e" stroke-width="1.3" stroke-linecap="butt"/>
<line x1="82.20" y1="756.80" x2="82.20" y2="801.30" stroke="#1e1e1e" stroke-width="1.3" stroke-linecap="butt"/>
<line x1="79.00" y1="756.80" x2="85.40" y2="756.80" stroke="#1e1e1e" stroke-width="1.3" stroke-linecap="butt"/>
<line x1="79.00" y1="801.30" x2="85.40" y2="801.30" stroke="#1e1e1e" stroke-width="1.3" stroke-linecap="butt"/>
<line x1="131.50" y1="790.80" x2="131.50" y2="816.20" stroke="#1e1e1e" stroke-width="1.3" stroke-linecap="butt"/>
<line x1="128.30" y1="790.80" x2="134.70" y2="790.80" stroke="#1e1e1e" stroke-width="1.3" stroke-linecap="butt"/>
<line x1="128.30" y1="816.20" x2="134.70" y2="816.20" stroke="#1e1e1e" stroke-width="1.3" stroke-linecap="butt"/>
<line x1="197.50" y1="805.20" x2="197.50" y2="828.70" stroke="#1e1e1e" stroke-width="1.3" stroke-linecap="butt"/>
<line x1="194.30" y1="805.20" x2="200.70" y2="805.20" stroke="#1e1e1e" stroke-width="1.3" stroke-linecap="butt"/>
<line x1="194.30" y1="828.70" x2="200.70" y2="828.70" stroke="#1e1e1e" stroke-width="1.3" stroke-linecap="butt"/>
<line x1="68.30" y1="794.40" x2="68.30" y2="823.50" stroke="#1e1e1e" stroke-width="1.3" stroke-linecap="butt"/>
<line x1="65.10" y1="794.40" x2="71.50" y2="794.40" stroke="#1e1e1e" stroke-width="1.3" stroke-linecap="butt"/>
<line x1="65.10" y1="823.50" x2="71.50" y2="823.50" stroke="#1e1e1e" stroke-width="1.3" stroke-linecap="butt"/>
<line x1="68.30" y1="819.20" x2="68.30" y2="833.10" stroke="#1e1e1e" stroke-width="1.3" stroke-linecap="butt"/>
<line x1="65.10" y1="819.20" x2="71.50" y2="819.20" stroke="#1e1e1e" stroke-width="1.3" stroke-linecap="butt"/>
<line x1="65.10" y1="833.10" x2="71.50" y2="833.10" stroke="#1e1e1e" stroke-width="1.3" stroke-linecap="butt"/>
<line x1="197.50" y1="814.50" x2="197.50" y2="828.50" stroke="#1e1e1e" stroke-width="1.3" stroke-linecap="butt"/>
<line x1="194.30" y1="814.50" x2="200.70" y2="814.50" stroke="#1e1e1e" stroke-width="1.3" stroke-linecap="butt"/>
<line x1="194.30" y1="828.50" x2="200.70" y2="828.50" stroke="#1e1e1e" stroke-width="1.3" stroke-linecap="butt"/>
<polyline points="68.30,809.40 82.20,840.80 131.50,821.30 197.50,821.50" fill="none" stroke="#e8921a" stroke-width="1.5" stroke-linecap="butt" stroke-linejoin="miter"/>
<circle cx="68.30" cy="809.40" r="3.3" fill="#e8921a" stroke="none" stroke-width="0"/>
<circle cx="82.20" cy="840.80" r="3.3" fill="#e8921a" stroke="none" stroke-width="0"/>
<circle cx="131.50" cy="821.30" r="3.3" fill="#e8921a" stroke="none" stroke-width="0"/>
<circle cx="197.50" cy="821.50" r="3.3" fill="#e8921a" stroke="none" stroke-width="0"/>
<polyline points="68.30,825.30 82.20,836.00 131.50,828.30 197.50,837.30" fill="none" stroke="#234a86" stroke-width="1.5" stroke-linecap="butt" stroke-linejoin="miter"/>
<circle cx="68.30" cy="825.30" r="3.3" fill="#234a86" stroke="none" stroke-width="0"/>
<circle cx="82.20" cy="836.00" r="3.3" fill="#234a86" stroke="none" stroke-width="0"/>
<circle cx="131.50" cy="828.30" r="3.3" fill="#234a86" stroke="none" stroke-width="0"/>
<circle cx="197.50" cy="837.30" r="3.3" fill="#234a86" stroke="none" stroke-width="0"/>
<polyline points="68.30,826.70 82.20,833.70 131.50,836.70 197.50,839.60" fill="none" stroke="#5b2a7a" stroke-width="1.5" stroke-linecap="butt" stroke-linejoin="miter"/>
<circle cx="68.30" cy="826.70" r="3.3" fill="#5b2a7a" stroke="none" stroke-width="0"/>
<circle cx="82.20" cy="833.70" r="3.3" fill="#5b2a7a" stroke="none" stroke-width="0"/>
<circle cx="131.50" cy="836.70" r="3.3" fill="#5b2a7a" stroke="none" stroke-width="0"/>
<circle cx="197.50" cy="839.60" r="3.3" fill="#5b2a7a" stroke="none" stroke-width="0"/>
<polyline points="68.30,751.90 82.20,778.90 131.50,803.70 197.50,817.10" fill="none" stroke="#d42a1c" stroke-width="1.5" stroke-linecap="butt" stroke-linejoin="miter"/>
<circle cx="68.30" cy="751.90" r="3.3" fill="#b3102e" stroke="none" stroke-width="0"/>
<circle cx="82.20" cy="778.90" r="3.3" fill="#b3102e" stroke="none" stroke-width="0"/>
<circle cx="131.50" cy="803.70" r="3.3" fill="#b3102e" stroke="none" stroke-width="0"/>
<circle cx="197.50" cy="817.10" r="3.3" fill="#b3102e" stroke="none" stroke-width="0"/>
<line x1="265.00" y1="705.50" x2="265.00" y2="840.90" stroke="#161616" stroke-width="1.5" stroke-linecap="butt"/>
<line x1="260.70" y1="840.40" x2="399.60" y2="840.40" stroke="#161616" stroke-width="1.5" stroke-linecap="butt"/>
<line x1="260.70" y1="840.20" x2="265.00" y2="840.20" stroke="#161616" stroke-width="1.3" stroke-linecap="butt"/>
<text x="255.70" y="843.80" font-size="10.3" text-anchor="end" fill="#222222">0</text>
<line x1="260.70" y1="796.40" x2="265.00" y2="796.40" stroke="#161616" stroke-width="1.3" stroke-linecap="butt"/>
<text x="255.70" y="800.00" font-size="10.3" text-anchor="end" fill="#222222" textLength="29.20" lengthAdjust="spacingAndGlyphs">10000</text>
<line x1="260.70" y1="752.30" x2="265.00" y2="752.30" stroke="#161616" stroke-width="1.3" stroke-linecap="butt"/>
<text x="255.70" y="755.90" font-size="10.3" text-anchor="end" fill="#222222" textLength="29.20" lengthAdjust="spacingAndGlyphs">20000</text>
<line x1="260.70" y1="708.10" x2="265.00" y2="708.10" stroke="#161616" stroke-width="1.3" stroke-linecap="butt"/>
<text x="255.70" y="711.70" font-size="10.3" text-anchor="end" fill="#222222" textLength="29.20" lengthAdjust="spacingAndGlyphs">30000</text>
<line x1="267.30" y1="840.40" x2="267.30" y2="844.20" stroke="#161616" stroke-width="1.3" stroke-linecap="butt"/>
<text x="267.30" y="857.70" font-size="10.8" text-anchor="middle" fill="#222222">5</text>
<line x1="280.80" y1="840.40" x2="280.80" y2="844.20" stroke="#161616" stroke-width="1.3" stroke-linecap="butt"/>
<text x="280.80" y="857.70" font-size="10.8" text-anchor="middle" fill="#222222">30</text>
<line x1="330.00" y1="840.40" x2="330.00" y2="844.20" stroke="#161616" stroke-width="1.3" stroke-linecap="butt"/>
<text x="330.00" y="856.40" font-size="10.8" text-anchor="middle" fill="#222222">120</text>
<line x1="395.60" y1="840.40" x2="395.60" y2="844.20" stroke="#161616" stroke-width="1.3" stroke-linecap="butt"/>
<text x="395.60" y="857.70" font-size="10.8" text-anchor="middle" fill="#222222">240</text>
<text x="271.10" y="873.90" font-size="13.7" text-anchor="start" fill="#222222" textLength="122.40" lengthAdjust="spacingAndGlyphs">Post-transfusion time (min)</text>
<polyline points="267.30,840.20 280.80,840.20 330.00,840.20 395.60,840.20" fill="none" stroke="#5b2a7a" stroke-width="1.5" stroke-linecap="butt" stroke-linejoin="miter"/>
<circle cx="267.30" cy="840.20" r="3.3" fill="#5b2a7a" stroke="none" stroke-width="0"/>
<circle cx="280.80" cy="840.20" r="3.3" fill="#5b2a7a" stroke="none" stroke-width="0"/>
<circle cx="330.00" cy="840.20" r="3.3" fill="#5b2a7a" stroke="none" stroke-width="0"/>
<circle cx="395.60" cy="840.20" r="3.3" fill="#5b2a7a" stroke="none" stroke-width="0"/>
<polyline points="267.30,839.30 280.80,839.30 330.00,839.30 395.60,839.30" fill="none" stroke="#e8921a" stroke-width="1.5" stroke-linecap="butt" stroke-linejoin="miter"/>
<circle cx="267.30" cy="839.30" r="3.3" fill="#e8921a" stroke="none" stroke-width="0"/>
<circle cx="280.80" cy="839.30" r="3.3" fill="#e8921a" stroke="none" stroke-width="0"/>
<circle cx="330.00" cy="839.30" r="3.3" fill="#e8921a" stroke="none" stroke-width="0"/>
<circle cx="395.60" cy="839.30" r="3.3" fill="#e8921a" stroke="none" stroke-width="0"/>
<polyline points="267.30,838.40 280.80,838.40 330.00,838.40 395.60,838.40" fill="none" stroke="#3c6aa0" stroke-width="1.5" stroke-linecap="butt" stroke-linejoin="miter"/>
<circle cx="267.30" cy="838.40" r="3.3" fill="#234a86" stroke="none" stroke-width="0"/>
<circle cx="280.80" cy="838.40" r="3.3" fill="#234a86" stroke="none" stroke-width="0"/>
<circle cx="330.00" cy="838.40" r="3.3" fill="#234a86" stroke="none" stroke-width="0"/>
<circle cx="395.60" cy="838.40" r="3.3" fill="#234a86" stroke="none" stroke-width="0"/>
<polyline points="267.30,838.00 280.80,836.50 330.00,836.50 395.60,837.30" fill="none" stroke="#c41634" stroke-width="1.5" stroke-linecap="butt" stroke-linejoin="miter"/>
<circle cx="267.30" cy="838.00" r="3.3" fill="#b3102e" stroke="none" stroke-width="0"/>
<circle cx="280.80" cy="836.50" r="3.3" fill="#b3102e" stroke="none" stroke-width="0"/>
<circle cx="330.00" cy="836.50" r="3.3" fill="#b3102e" stroke="none" stroke-width="0"/>
<circle cx="395.60" cy="837.30" r="3.3" fill="#b3102e" stroke="none" stroke-width="0"/>
<line x1="403.80" y1="717.70" x2="418.70" y2="717.70" stroke="#b3102e" stroke-width="1.5" stroke-linecap="butt"/>
<circle cx="411.20" cy="717.70" r="2.9" fill="#b3102e" stroke="none" stroke-width="0"/>
<line x1="403.80" y1="732.50" x2="418.70" y2="732.50" stroke="#5b2a7a" stroke-width="1.5" stroke-linecap="butt"/>
<circle cx="411.20" cy="732.50" r="2.9" fill="#5b2a7a" stroke="none" stroke-width="0"/>
<line x1="403.80" y1="759.60" x2="418.70" y2="759.60" stroke="#234a86" stroke-width="1.5" stroke-linecap="butt"/>
<circle cx="411.20" cy="759.60" r="2.9" fill="#234a86" stroke="none" stroke-width="0"/>
<line x1="403.80" y1="774.00" x2="418.70" y2="774.00" stroke="#e8921a" stroke-width="1.5" stroke-linecap="butt"/>
<circle cx="411.20" cy="774.00" r="2.9" fill="#e8921a" stroke="none" stroke-width="0"/>
<text x="423.10" y="720.60" font-size="10" text-anchor="start" fill="#222222" textLength="60.90" lengthAdjust="spacingAndGlyphs">Macrophages</text>
<text x="423.10" y="736.00" font-size="10" text-anchor="start" fill="#222222" textLength="58.60" lengthAdjust="spacingAndGlyphs">Inflammatory</text>
<text x="423.10" y="746.90" font-size="10" text-anchor="start" fill="#222222" textLength="48.60" lengthAdjust="spacingAndGlyphs">monocytes</text>
<text x="423.10" y="762.90" font-size="10" text-anchor="start" fill="#222222" textLength="49.00" lengthAdjust="spacingAndGlyphs">Monocytes</text>
<text x="423.10" y="777.70" font-size="10" text-anchor="start" fill="#222222" textLength="58.60" lengthAdjust="spacingAndGlyphs">Granulocytes</text>
<rect x="0" y="0" width="520" height="1.5" fill="#000"/>
<rect x="0" y="0" width="1.5" height="888" fill="#000"/>
<rect x="518.3" y="0" width="1.7" height="888" fill="#000"/>
<rect x="0" y="885.8" width="520" height="2.2" fill="#000"/>
</svg></body></html>
